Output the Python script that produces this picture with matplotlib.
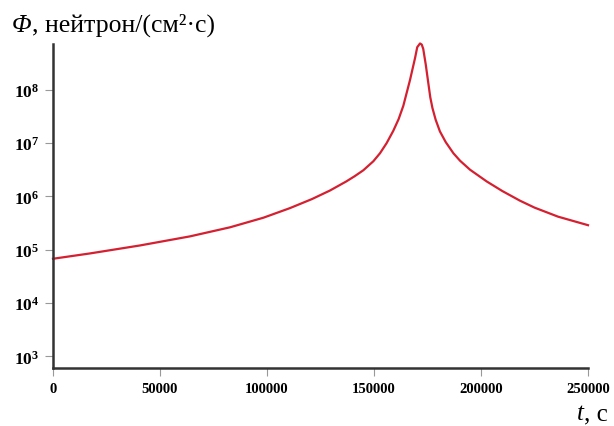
import numpy as np
import matplotlib.pyplot as plt

# time, s
t = [0, 17300, 40700, 64000, 82700, 98300, 110700, 121000, 129400, 137000,
     141000, 145000, 149700, 152800, 155900, 159000, 161500, 163700, 166800,
     169200, 170200, 171500, 172300, 173000, 174200, 175400, 176300, 177300,
     178800, 180800, 183500, 187100, 190200, 194900, 202700, 210000, 218200,
     225000, 236000, 250000]
# log10 of flux
log_phi = [4.83, 4.93, 5.08, 5.25, 5.42, 5.60, 5.78, 5.95, 6.11, 6.28,
           6.38, 6.49, 6.66, 6.81, 7.00, 7.23, 7.45, 7.70, 8.18,
           8.60, 8.80, 8.87, 8.85, 8.77, 8.47, 8.12, 7.86, 7.66,
           7.44, 7.22, 7.02, 6.81, 6.67, 6.50, 6.28, 6.10, 5.92,
           5.79, 5.62, 5.46]

xticks = [0, 50000, 100000, 150000, 200000, 250000]
ydecades = [3, 4, 5, 6, 7, 8]

plt.rcParams['font.family'] = 'Liberation Serif'
plt.rcParams['mathtext.fontset'] = 'custom'
plt.rcParams['mathtext.rm'] = 'Liberation Serif'
plt.rcParams['mathtext.bf'] = 'Liberation Serif:bold'
plt.rcParams['mathtext.it'] = 'Liberation Serif:italic'

fig = plt.figure(figsize=(6.14, 4.27), dpi=100)
ax = fig.add_axes([53 / 614, 58 / 427, 535 / 614, 324 / 427])

ax.semilogy(t, 10 ** np.array(log_phi), color='#d42030', lw=1.6,
            solid_joinstyle='round', clip_on=False)

ax.set_xlim(0, 250000)
ax.set_ylim(10 ** 2.78, 10 ** 8.86)
ax.set_xticks(xticks)
ax.set_xticklabels([str(v) for v in xticks], fontsize=10.5, fontweight='bold')
ax.set_yticks([10 ** d for d in ydecades])
ax.set_yticklabels([r'$\mathbf{10^{%d}}$' % d for d in ydecades], fontsize=12.5)
ax.yaxis.set_minor_locator(plt.NullLocator())

for s in ['top', 'right']:
    ax.spines[s].set_visible(False)
for s in ['left', 'bottom']:
    ax.spines[s].set_linewidth(1.8)
    ax.spines[s].set_color('#333333')
ax.tick_params(length=6, width=0.8, color='#999999', pad=4)

t1 = fig.text(12 / 614, 1 - 32 / 427, 'Φ', fontsize=18.5, style='italic', va='baseline')
ax.annotate(', нейтрон/(см²·с)', xy=(1, 0), xycoords=t1, fontsize=18.5, va='bottom')

t2 = fig.text(577 / 614, 1 - 420 / 427, 't', fontsize=18, style='italic', va='baseline')
ax.annotate(', с', xy=(1, 0), xycoords=t2, fontsize=18, va='bottom')

fig.savefig('out.png', dpi=100)
